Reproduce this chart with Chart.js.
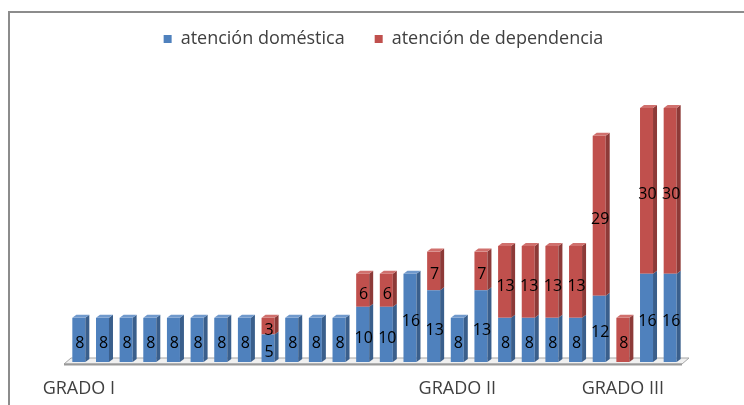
<!DOCTYPE html>
<html>
<head>
<meta charset="utf-8">
<script src="https://cdn.jsdelivr.net/npm/chart.js@4.4.1/dist/chart.umd.min.js"></script>
<style>
  html, body { margin: 0; padding: 0; background: #fff; overflow: hidden; }
  #wrap { position: relative; width: 744px; height: 405px; overflow: hidden; }
  #frame { position: absolute; left: 8px; top: 11px; width: 800px; height: 500px; border: 2px solid #8c8c8c; }
  #grafico { position: absolute; left: 0; top: 0; }
</style>
</head>
<body>
<div id="wrap">
  <div id="frame"></div>
  <canvas id="grafico" width="744" height="405"></canvas>
</div>
<script>
const categorias = ['GRADO I', '', '', '', '', '', '', '', '', '', '', '', '', '', '', '', 'GRADO II', '', '', '', '', '', '', 'GRADO III', '', ''];
const domestica = [8, 8, 8, 8, 8, 8, 8, 8, 5, 8, 8, 8, 10, 10, 16, 13, 8, 13, 8, 8, 8, 8, 12, 0, 16, 16];
const dependencia = [0, 0, 0, 0, 0, 0, 0, 0, 3, 0, 0, 0, 6, 6, 0, 7, 0, 7, 13, 13, 13, 13, 29, 8, 30, 30];

const FUENTE = "'Open Sans', 'DejaVu Sans', sans-serif";
const PROF_X = 4, PROF_Y = 3;

const colores = [
  { frente: '#4f81bd', lado: '#3a5f8c', tapa: '#7099cc' },
  { frente: '#c0504d', lado: '#8d3a38', tapa: '#d0706d' }
];

// deja espacio bajo la leyenda y la corre un poco a la derecha
const espacioLeyenda = {
  id: 'espacioLeyenda',
  beforeInit(chart) {
    const fit = chart.legend.fit;
    chart.legend.fit = function () {
      fit.bind(chart.legend)();
      this.height += 28;
    };
  },
  afterLayout(chart) {
    chart.legend.left += 9;
    chart.legend.right += 9;
  }
};

// base gris tipo 3D bajo las barras
const suelo = {
  id: 'suelo',
  beforeDatasetsDraw(chart) {
    const { ctx, chartArea } = chart;
    const y0 = chart.scales.y.getPixelForValue(0);
    const x0 = chartArea.left - 3, x1 = chartArea.right;
    ctx.save();
    ctx.beginPath();
    ctx.moveTo(x0, y0 + 2);
    ctx.lineTo(x1, y0 + 2);
    ctx.lineTo(x1 + 7, y0 - 4);
    ctx.lineTo(x0 + 7, y0 - 4);
    ctx.closePath();
    ctx.fillStyle = '#f0f0f0';
    ctx.fill();
    ctx.strokeStyle = '#a6a6a6';
    ctx.lineWidth = 1;
    ctx.stroke();
    ctx.beginPath();
    ctx.moveTo(x0, y0 + 2.5);
    ctx.lineTo(x1, y0 + 2.5);
    ctx.strokeStyle = '#999';
    ctx.lineWidth = 2;
    ctx.stroke();
    ctx.restore();
  }
};

// caras lateral y superior de cada barra, y las etiquetas de valor
const barras3d = {
  id: 'barras3d',
  afterDatasetsDraw(chart) {
    const { ctx } = chart;
    const metas = chart.data.datasets.map((d, i) => chart.getDatasetMeta(i));
    ctx.save();
    metas.forEach((meta, di) => {
      meta.data.forEach((bar, i) => {
        const v = chart.data.datasets[di].data[i];
        if (!v) return;
        const { x, y, base, width } = bar.getProps(['x', 'y', 'base', 'width'], true);
        const der = x + width / 2, izq = x - width / 2;
        ctx.fillStyle = colores[di].lado;
        ctx.beginPath();
        ctx.moveTo(der, base);
        ctx.lineTo(der, y);
        ctx.lineTo(der + PROF_X, y - PROF_Y);
        ctx.lineTo(der + PROF_X, base - PROF_Y);
        ctx.closePath();
        ctx.fill();
        const arriba = metas.slice(di + 1).every((m, k) => !chart.data.datasets[di + 1 + k].data[i]);
        if (arriba) {
          ctx.fillStyle = colores[di].tapa;
          ctx.beginPath();
          ctx.moveTo(izq, y);
          ctx.lineTo(der, y);
          ctx.lineTo(der + PROF_X, y - PROF_Y);
          ctx.lineTo(izq + PROF_X, y - PROF_Y);
          ctx.closePath();
          ctx.fill();
        }
      });
    });
    ctx.font = '16px ' + FUENTE;
    ctx.fillStyle = '#000';
    ctx.textAlign = 'center';
    ctx.textBaseline = 'middle';
    metas.forEach((meta, di) => {
      meta.data.forEach((bar, i) => {
        const v = chart.data.datasets[di].data[i];
        if (!v) return;
        const { x, y, base } = bar.getProps(['x', 'y', 'base'], true);
        ctx.fillText(String(v), x + 1, (y + base) / 2 + 4);
      });
    });
    ctx.restore();
  }
};

new Chart(document.getElementById('grafico'), {
  type: 'bar',
  data: {
    labels: categorias,
    datasets: [
      { label: 'atención doméstica', data: domestica, backgroundColor: colores[0].frente },
      { label: 'atención de dependencia', data: dependencia, backgroundColor: colores[1].frente }
    ]
  },
  options: {
    responsive: false,
    animation: false,
    layout: { padding: { left: 67, right: 62, top: 0, bottom: 0 } },
    datasets: { bar: { barPercentage: 0.55, categoryPercentage: 1 } },
    plugins: {
      legend: {
        position: 'top',
        labels: {
          boxWidth: 8, boxHeight: 8, padding: 30,
          color: '#404040',
          font: { family: FUENTE, size: 18 }
        }
      },
      tooltip: { enabled: false }
    },
    scales: {
      x: {
        stacked: true,
        grid: { display: false, drawTicks: false },
        border: { display: false },
        afterFit(scale) { scale.height = 43; },
        ticks: {
          autoSkip: false, maxRotation: 0, minRotation: 0, padding: 16,
          color: '#404040',
          font: { family: FUENTE, size: 18 }
        }
      },
      y: { stacked: true, display: false, min: 0, max: 50 }
    }
  },
  plugins: [espacioLeyenda, suelo, barras3d]
});
</script>
</body>
</html>
